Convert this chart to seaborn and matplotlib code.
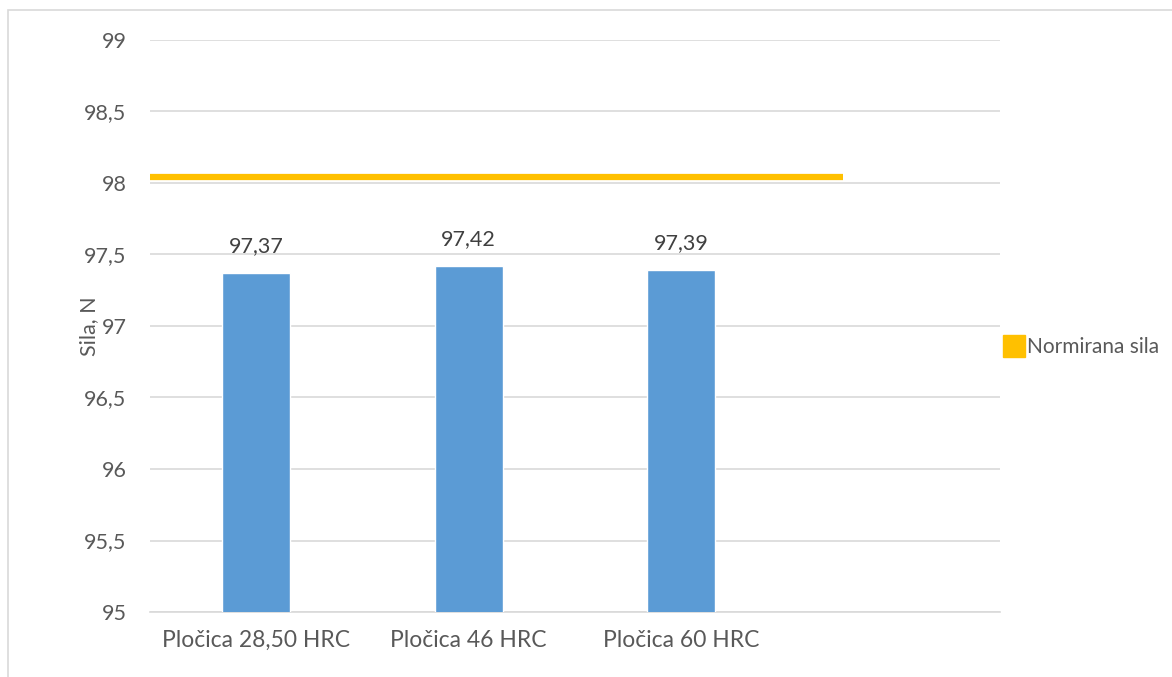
import numpy as np
import pandas as pd
import matplotlib
matplotlib.use("Agg")
import matplotlib.pyplot as plt
import seaborn as sns
from matplotlib.lines import Line2D
from matplotlib.patches import Rectangle

# values
categories = ["Pločica 28,50 HRC", "Pločica 46 HRC", "Pločica 60 HRC"]
sila = [97.37, 97.42, 97.39]
normirana_sila = 98.04
y_ticks = [95, 95.5, 96, 96.5, 97, 97.5, 98, 98.5, 99]

sns.set_theme(style="white")
plt.rcParams["font.family"] = ["Lato", "DejaVu Sans"]

txt = "#595959"
fs = 15.5
df = pd.DataFrame({"kategorija": categories, "sila": sila})

fig = plt.figure(figsize=(11.72, 6.77), dpi=100)
ax = fig.add_axes([150 / 1172, 1 - 612 / 677, 850 / 1172, 572 / 677])

sns.barplot(data=df, x="kategorija", y="sila", color="#5B9BD5", width=0.32,
            saturation=1, ax=ax, zorder=3)

# norm line
ax.hlines(normirana_sila, -0.5, 2.76, color="#FFC000", lw=4.5, zorder=4)

for i, v in enumerate(sila):
    ax.annotate(f"{v:.2f}".replace(".", ","), (i, v), xytext=(0, 12),
                textcoords="offset points", ha="center", va="bottom",
                fontsize=fs, color="#404040")

ax.set_xlim(-0.5, 3.5)
ax.set_ylim(95, 99)
ax.set_yticks(y_ticks)
ax.set_yticklabels([f"{t:g}".replace(".", ",") for t in y_ticks])
ax.yaxis.grid(True, color="#D9D9D9", lw=1.2, zorder=0)
ax.set_axisbelow(True)
for s in ["top", "right", "left"]:
    ax.spines[s].set_visible(False)
ax.spines["bottom"].set_color("#D9D9D9")
ax.spines["bottom"].set_linewidth(1.2)
ax.tick_params(axis="both", length=0, labelsize=fs, colors=txt)
ax.tick_params(axis="x", labelsize=16.5)
ax.tick_params(axis="y", pad=17)
ax.tick_params(axis="x", pad=13)
ax.set_xlabel("")
ax.set_ylabel("Sila, N", fontsize=fs, color=txt, labelpad=-11)

handle = Line2D([], [], marker="s", color="none", markerfacecolor="#FFC000",
                markeredgecolor="#FFC000", markersize=16)
fig.legend([handle], ["Normirana sila"], loc="center left",
           bbox_to_anchor=(993 / 1172, 1 - 347 / 677), frameon=False,
           fontsize=15, labelcolor=txt, handletextpad=0.05, borderaxespad=0,
           handlelength=1.2)

# chart frame (left and top edges visible)
fig.patches.append(Rectangle((8 / 1172, -0.1), 1.2, 1 - 10 / 677 + 0.1,
                             transform=fig.transFigure, fill=False,
                             edgecolor="#D9D9D9", lw=1.2))

fig.savefig("out.png", dpi=100)
